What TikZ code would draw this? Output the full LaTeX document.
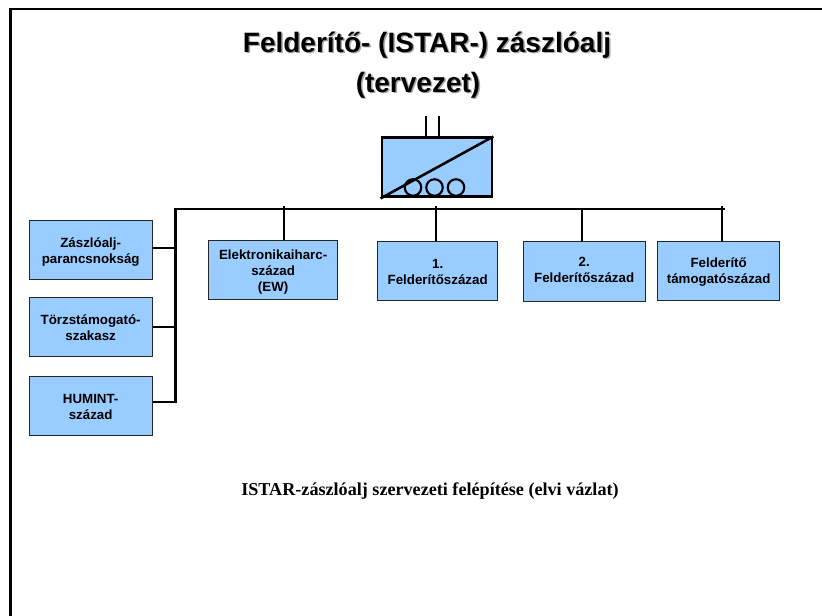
\documentclass[tikz,border=0pt]{standalone}
\usepackage{fontspec}
\setmainfont{Liberation Sans}
\newfontfamily\serifb{Liberation Serif}
\definecolor{boxblue}{HTML}{99CCFF}
\definecolor{shadowgrey}{HTML}{A8A8A8}
\tikzset{
 x=0.75pt,y=-0.75pt,
 unit/.style={draw=black!85,line width=1pt,fill=boxblue,inner sep=0pt},
 unitlabel/.style={inner sep=0pt,align=center,font=\fontsize{10}{12}\selectfont\bfseries},
 thick line/.style={line width=1.6pt},
 drop line/.style={line width=1.5pt},
 symb/.style={draw=black,line width=2.2pt},
 titletext/.style={font=\fontsize{21}{25}\selectfont\bfseries,inner sep=0pt}
}
% x, y, w, h, name, text, text offset
\newcommand{\unitbox}[7]{%
  \node[unit,minimum width=#3*0.75pt,minimum height=#4*0.75pt,anchor=north west] (#5) at (#1,#2) {};
  \node[unitlabel,yshift=-#7*0.75pt] (#5t) at (#5) {#6};}
\begin{document}
\begin{tikzpicture}
\useasboundingbox (0,0) rectangle (822,616);
\draw[line width=1.9pt] (10.5,616) -- (10.5,9) -- (822,9);
% title
\node[titletext,text=shadowgrey] (t1s) at (428.5,46.5) {Felderítő- (ISTAR-) zászlóalj};
\node[titletext] (t1) at (427,45) {Felderítő- (ISTAR-) zászlóalj};
\node[titletext,text=shadowgrey] (t2s) at (419.5,86.5) {(tervezet)};
\node[titletext] (t2) at (418,85) {(tervezet)};
% HQ symbol
\node[symb,fill=boxblue,minimum width=110*0.75pt,minimum height=59*0.75pt,inner sep=0pt,anchor=north west] (hq) at (380.5,136.5) {};
\draw[line width=1.9pt] (hq.south west) -- (hq.north east);
\foreach \n/\xx in {a/413,b/434.5,c/456}
  \node[draw=black,line width=1.6pt,circle,minimum size=16.5*0.75pt,inner sep=0pt] (c\n) at (\xx,187.5) {};
\coordinate (s1) at (426,116);
\coordinate (s2) at (438.5,116);
\draw[line width=1.5pt] (s1) -- (s1 |- hq.north);
\draw[line width=1.5pt] (s2) -- (s2 |- hq.north);
% boxes
\unitbox{28.5}{220}{123}{59}{a}{Zászlóalj-\\parancsnokság}{1.5}
\unitbox{28.5}{297}{123}{59}{b}{Törzstámogató-\\szakasz}{1}
\unitbox{28.5}{376}{123}{59}{c}{HUMINT-\\század}{0.5}
\unitbox{208}{240}{129}{59}{d}{Elektronikaiharc-\\század\\(EW)}{1.5}
\unitbox{377}{241}{120}{59}{e}{1.\\Felderítőszázad}{0.5}
\unitbox{522.5}{241}{122}{60}{f}{2.\\Felderítőszázad}{-1.5}
\unitbox{657}{241}{122}{59}{g}{Felderítő\\támogatószázad}{0.5}
% bus
\coordinate (tl) at (175.5,209);
\coordinate (tr) at (725,209);
\coordinate (bl) at (175.5,402);
\draw[thick line] (tr) -- (tl) -- (bl) -- (c.east |- bl);
\draw[thick line] (a.east |- 0,248) -- (176.5,248);
\draw[drop line] (b.east |- 0,327) -- (177,327);
\coordinate (dt) at (284,206.5);
\coordinate (et) at (435.5,206.5);
\coordinate (ft) at (581.5,208);
\coordinate (gt) at (721.5,206);
\draw[drop line] (dt |- d.north) -- (dt);
\draw[drop line] (et |- e.north) -- (et);
\draw[drop line] (ft |- f.north) -- (ft);
\draw[drop line] (gt |- g.north) -- (gt);
% caption
\node[font=\serifb\fontsize{13.6}{16}\selectfont\bfseries,inner sep=0pt] (cap) at (430,491) {ISTAR-zászlóalj szervezeti felépítése (elvi vázlat)};
\end{tikzpicture}
\end{document}
